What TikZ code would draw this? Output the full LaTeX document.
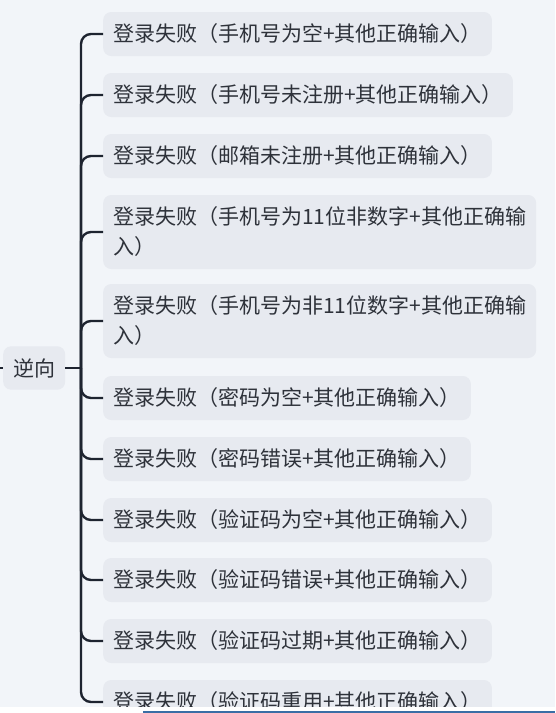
\documentclass[tikz,border=0pt]{standalone}
\usepackage{fontspec}
\newfontfamily\cjk{Noto Sans CJK SC}
\definecolor{bgc}{HTML}{F2F5F9}
\definecolor{boxc}{HTML}{E7EAF0}
\definecolor{txtc}{HTML}{2E323A}
\definecolor{linec}{HTML}{1E2430}
\definecolor{barc}{HTML}{3A6EA5}

\begin{document}
\begin{tikzpicture}[x=1pt,y=-1pt,
  every node/.style={font=\cjk\fontsize{21}{30}\selectfont,text=txtc},
  item/.style={fill=boxc,rounded corners=8pt,inner xsep=10pt,inner ysep=12pt,anchor=west,align=left},
  branch/.style={draw=linec,line width=2.4pt,rounded corners=10pt}]
  \fill[bgc] (0,0) rectangle (555,713);
  \useasboundingbox (0,0) rectangle (555,713);
  \node[item] (root) at (3,368) {逆向};
  \coordinate (in) at (-5,368);
  \coordinate (hub) at (81,368);
  \node[item] (a) at (103,34) {登录失败（手机号为空+其他正确输入）};
  \node[item] (b) at (103,95) {登录失败（手机号未注册+其他正确输入）};
  \node[item] (c) at (103,156) {登录失败（邮箱未注册+其他正确输入）};
  \node[item] (d) at (103,232) {登录失败（手机号为11位非数字+其他正确输\\入）};
  \node[item] (e) at (103,321) {登录失败（手机号为非11位数字+其他正确输\\入）};
  \node[item] (f) at (103,398) {登录失败（密码为空+其他正确输入）};
  \node[item] (g) at (103,459) {登录失败（密码错误+其他正确输入）};
  \node[item] (h) at (103,520) {登录失败（验证码为空+其他正确输入）};
  \node[item] (i) at (103,580) {登录失败（验证码错误+其他正确输入）};
  \node[item] (j) at (103,641) {登录失败（验证码过期+其他正确输入）};
  \node[item] (k) at (103,702) {登录失败（验证码重用+其他正确输入）};
  \draw[branch] (in) -- (root.west);
  \draw[branch] (root.east) -- (hub);
  \foreach \n in {a,b,c,d,e,f,g,h,i,j,k}
    \draw[branch] (hub) |- (\n.west);
  % screen edge
  \fill[white] (0,707) rectangle (555,713);
  \draw[barc,line width=2pt] (143,711.5) -- (555,711.5);
\end{tikzpicture}
\end{document}
